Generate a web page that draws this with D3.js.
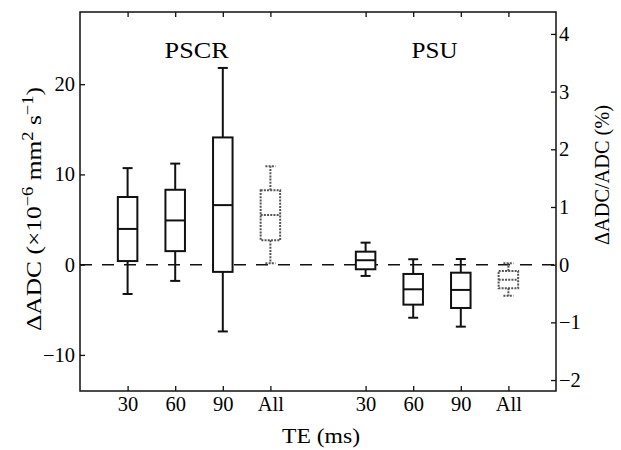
<!DOCTYPE html>
<html>
<head>
<meta charset="utf-8">
<script src="https://cdn.jsdelivr.net/npm/d3@7"></script>
<style>
  html, body { margin: 0; padding: 0; background: #fff; }
  svg { display: block; }
  text { font-family: "Liberation Serif", "Times New Roman", serif; fill: #000; }
</style>
</head>
<body>
<svg id="chart" width="621" height="450"></svg>
<script>
// ---- data ----
const categories  = ["30", "60", "90", "All", "30", "60", "90", "All"];
const positions   = [1, 2, 3, 4, 6, 7, 8, 9];
const groups      = ["PSCR", "PSCR", "PSCR", "PSCR", "PSU", "PSU", "PSU", "PSU"];
const pooled      = [false, false, false, true, false, false, false, true];
const whiskerLow  = [-3.25, -1.8, -7.4, 0.15, -1.25, -5.88, -6.87, -3.44];
const q1          = [0.4, 1.5, -0.8, 2.7, -0.51, -4.43, -4.8, -2.6];
const median      = [3.96, 4.9, 6.6, 5.5, 0.49, -2.73, -2.8, -1.66];
const q3          = [7.5, 8.3, 14.1, 8.25, 1.44, -1.03, -0.89, -0.7];
const whiskerHigh = [10.7, 11.2, 21.8, 10.9, 2.44, 0.6, 0.63, 0.15];
const leftTicks   = [-10, 0, 10, 20];
const rightTicks  = [-2, -1, 0, 1, 2, 3, 4];
const groupTitles = [{name: "PSCR", pos: 2.45}, {name: "PSU", pos: 7.45}];

// ---- layout ----
const L = 80, R = 556, T = 12, B = 391;
const svg = d3.select("#chart");
const x  = d3.scaleLinear().domain([0, 10]).range([L, R]);
const yL = d3.scaleLinear().domain([-14, 28]).range([B, T]);
const yR = d3.scaleLinear().domain([-2.19, 4.38]).range([B, T]);

const tickFont = "20.5px";

// frame
svg.append("rect").attr("x", L).attr("y", T).attr("width", R - L).attr("height", B - T)
  .attr("fill", "none").attr("stroke", "#111").attr("stroke-width", 1.5);

// bottom axis (ticks inward)
const xAxis = d3.axisBottom(x).tickValues(positions).tickSize(-5).tickPadding(5)
  .tickFormat((d, i) => categories[i]);
const gx = svg.append("g").attr("transform", `translate(0,${B})`).call(xAxis);
gx.select(".domain").remove();
gx.selectAll("text").style("font-size", tickFont).attr("fill", "#000");
gx.selectAll("line").attr("stroke", "#111").attr("stroke-width", 1.3);

// top ticks
const gt = svg.append("g").attr("transform", `translate(0,${T})`)
  .call(d3.axisTop(x).tickValues(positions).tickSize(-5).tickFormat(""));
gt.select(".domain").remove();
gt.selectAll("line").attr("stroke", "#111").attr("stroke-width", 1.3);

// left axis
const gl = svg.append("g").attr("transform", `translate(${L},0)`)
  .call(d3.axisLeft(yL).tickValues(leftTicks).tickSize(-5).tickPadding(5).tickFormat(d3.format("d")));
gl.select(".domain").remove();
gl.selectAll("text").style("font-size", tickFont).attr("fill", "#000");
gl.selectAll("line").attr("stroke", "#111").attr("stroke-width", 1.3);

// right axis
const gr = svg.append("g").attr("transform", `translate(${R},0)`)
  .call(d3.axisRight(yR).tickValues(rightTicks).tickSize(-5).tickPadding(3).tickFormat(d3.format("d")));
gr.select(".domain").remove();
gr.selectAll("text").style("font-size", tickFont).attr("fill", "#000");
gr.selectAll("line").attr("stroke", "#111").attr("stroke-width", 1.3);

// zero dashed line
svg.append("line").attr("x1", L).attr("x2", R).attr("y1", yL(0)).attr("y2", yL(0))
  .attr("stroke", "#111").attr("stroke-width", 1.5).attr("stroke-dasharray", "12,10");

// boxes
const halfW = 0.205, capW = 0.105;
const data = positions.map((p, i) => ({
  p, lo: whiskerLow[i], q1: q1[i], med: median[i], q3: q3[i], hi: whiskerHigh[i], pooled: pooled[i]
}));
const gb = svg.append("g");
data.forEach(d => {
  const g = gb.append("g")
    .attr("stroke", d.pooled ? "#555" : "#111")
    .attr("stroke-width", 2)
    .attr("stroke-dasharray", d.pooled ? "2,1.2" : null)
    .attr("fill", "none");
  g.append("line").attr("x1", x(d.p)).attr("x2", x(d.p)).attr("y1", yL(d.q3)).attr("y2", yL(d.hi));
  g.append("line").attr("x1", x(d.p)).attr("x2", x(d.p)).attr("y1", yL(d.q1)).attr("y2", yL(d.lo));
  g.append("line").attr("x1", x(d.p - capW)).attr("x2", x(d.p + capW)).attr("y1", yL(d.hi)).attr("y2", yL(d.hi));
  g.append("line").attr("x1", x(d.p - capW)).attr("x2", x(d.p + capW)).attr("y1", yL(d.lo)).attr("y2", yL(d.lo));
  g.append("rect").attr("x", x(d.p - halfW)).attr("width", x(d.p + halfW) - x(d.p - halfW))
    .attr("y", yL(d.q3)).attr("height", yL(d.q1) - yL(d.q3)).attr("fill", d.pooled ? "none" : "#fff");
  g.append("line").attr("x1", x(d.p - halfW)).attr("x2", x(d.p + halfW)).attr("y1", yL(d.med)).attr("y2", yL(d.med));
});

// group titles
groupTitles.forEach((t, i) => {
  svg.append("text").attr("x", x(t.pos)).attr("y", 58).attr("text-anchor", "middle")
    .attr("textLength", i === 0 ? 64 : 46).attr("lengthAdjust", "spacingAndGlyphs")
    .style("font-size", "23px").text(t.name);
});

// x label
svg.append("text").attr("x", 321).attr("y", 443).attr("text-anchor", "middle")
  .attr("textLength", 78).attr("lengthAdjust", "spacingAndGlyphs")
  .style("font-size", "22px").text("TE (ms)");

// left y label
const yl = svg.append("text").attr("transform", "translate(41,209) rotate(-90)")
  .attr("text-anchor", "middle").style("font-size", "22px")
  .attr("textLength", 244).attr("lengthAdjust", "spacingAndGlyphs");
yl.append("tspan").text("ΔADC (×10");
yl.append("tspan").attr("dy", -8).style("font-size", "16px").text("−6");
yl.append("tspan").attr("dy", 8).text(" mm");
yl.append("tspan").attr("dy", -8).style("font-size", "16px").text("2");
yl.append("tspan").attr("dy", 8).text(" s");
yl.append("tspan").attr("dy", -8).style("font-size", "16px").text("−1");
yl.append("tspan").attr("dy", 8).text(")");

// right y label
svg.append("text").attr("transform", "translate(609,175) rotate(-90)")
  .attr("text-anchor", "middle").style("font-size", "21px")
  .attr("textLength", 140).attr("lengthAdjust", "spacingAndGlyphs")
  .text("ΔADC/ADC (%)");
</script>
</body>
</html>
